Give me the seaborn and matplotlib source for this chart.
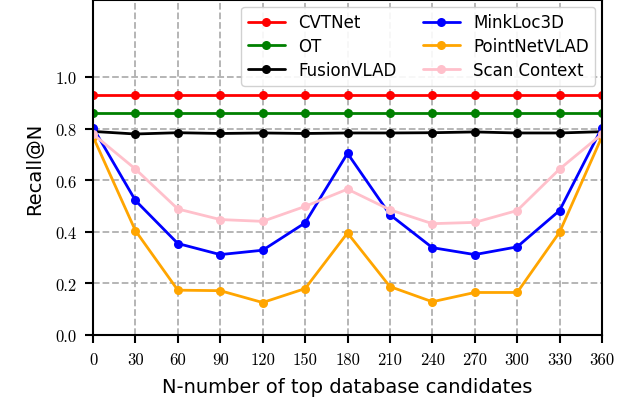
import numpy as np
import pandas as pd
import matplotlib
matplotlib.use("Agg")
import matplotlib.pyplot as plt
import seaborn as sns

# data
n_cands = [0, 30, 60, 90, 120, 150, 180, 210, 240, 270, 300, 330, 360]

cvtnet = [0.93] * 13
ot = [0.861] * 13
fusionvlad = [0.790, 0.780, 0.785, 0.782, 0.784, 0.782, 0.784, 0.784, 0.785, 0.788, 0.784, 0.784, 0.789]
minkloc3d = [0.805, 0.522, 0.355, 0.312, 0.329, 0.435, 0.705, 0.467, 0.339, 0.312, 0.342, 0.483, 0.805]
pointnetvlad = [0.77, 0.405, 0.174, 0.172, 0.126, 0.180, 0.396, 0.188, 0.129, 0.165, 0.165, 0.399, 0.77]
scancontext = [0.78, 0.644, 0.489, 0.448, 0.441, 0.499, 0.566, 0.486, 0.432, 0.437, 0.483, 0.644, 0.78]

methods = ["CVTNet", "OT", "FusionVLAD", "MinkLoc3D", "PointNetVLAD", "Scan Context"]
colors = ["red", "green", "black", "blue", "orange", "pink"]
series = [cvtnet, ot, fusionvlad, minkloc3d, pointnetvlad, scancontext]

rows = []
for m, vals in zip(methods, series):
    for n, v in zip(n_cands, vals):
        rows.append({"N": n, "recall": v, "method": m})
df = pd.DataFrame(rows)

sns.set_style("ticks")
plt.rcParams['font.family'] = ['DejaVu Sans']
plt.rcParams['text.color'] = 'black'
plt.rcParams['axes.labelcolor'] = 'black'

fig = plt.figure(figsize=(6.39, 4.02), dpi=100)
ax = fig.add_axes([93 / 639, 1 - 336 / 402, (602 - 93) / 639, 335 / 402])

sns.lineplot(data=df, x="N", y="recall", hue="method", hue_order=methods,
             palette=dict(zip(methods, colors)), marker="o", markersize=6.5,
             markeredgewidth=0, linewidth=2, ax=ax)

ax.set_xlim(0, 360)
ax.set_ylim(0, 1.3)
ax.set_xticks(n_cands)
ax.set_yticks([0.0, 0.2, 0.4, 0.6, 0.8, 1.0])
ax.set_xticklabels([str(n) for n in n_cands])
ax.set_yticklabels(["0.0", "0.2", "0.4", "0.6", "0.8", "1.0"])
for lab in ax.get_xticklabels() + ax.get_yticklabels():
    lab.set_fontfamily("cmr10")
    lab.set_fontsize(12)
ax.tick_params(direction="out", length=6, width=1.5, colors="black", pad=6)
for s in ax.spines.values():
    s.set_linewidth(1.5)
    s.set_color("black")

ax.grid(True, linestyle="--", color="#b0b0b0", linewidth=1.3)
ax.set_axisbelow(True)

ax.set_xlabel("N-number of top database candidates", fontsize=14, labelpad=7, color="black")
ax.set_ylabel("Recall@N", fontsize=14, labelpad=8, color="black")

leg = ax.legend(loc="upper right", ncol=2, fontsize=12, frameon=True,
                fancybox=True, borderaxespad=0.4, columnspacing=1.6,
                handlelength=2.2, labelspacing=0.35)
leg.get_frame().set_edgecolor("#cccccc")
leg.get_frame().set_alpha(0.9)
for t in leg.get_texts():
    t.set_color("black")

fig.savefig("out.png", dpi=100)
